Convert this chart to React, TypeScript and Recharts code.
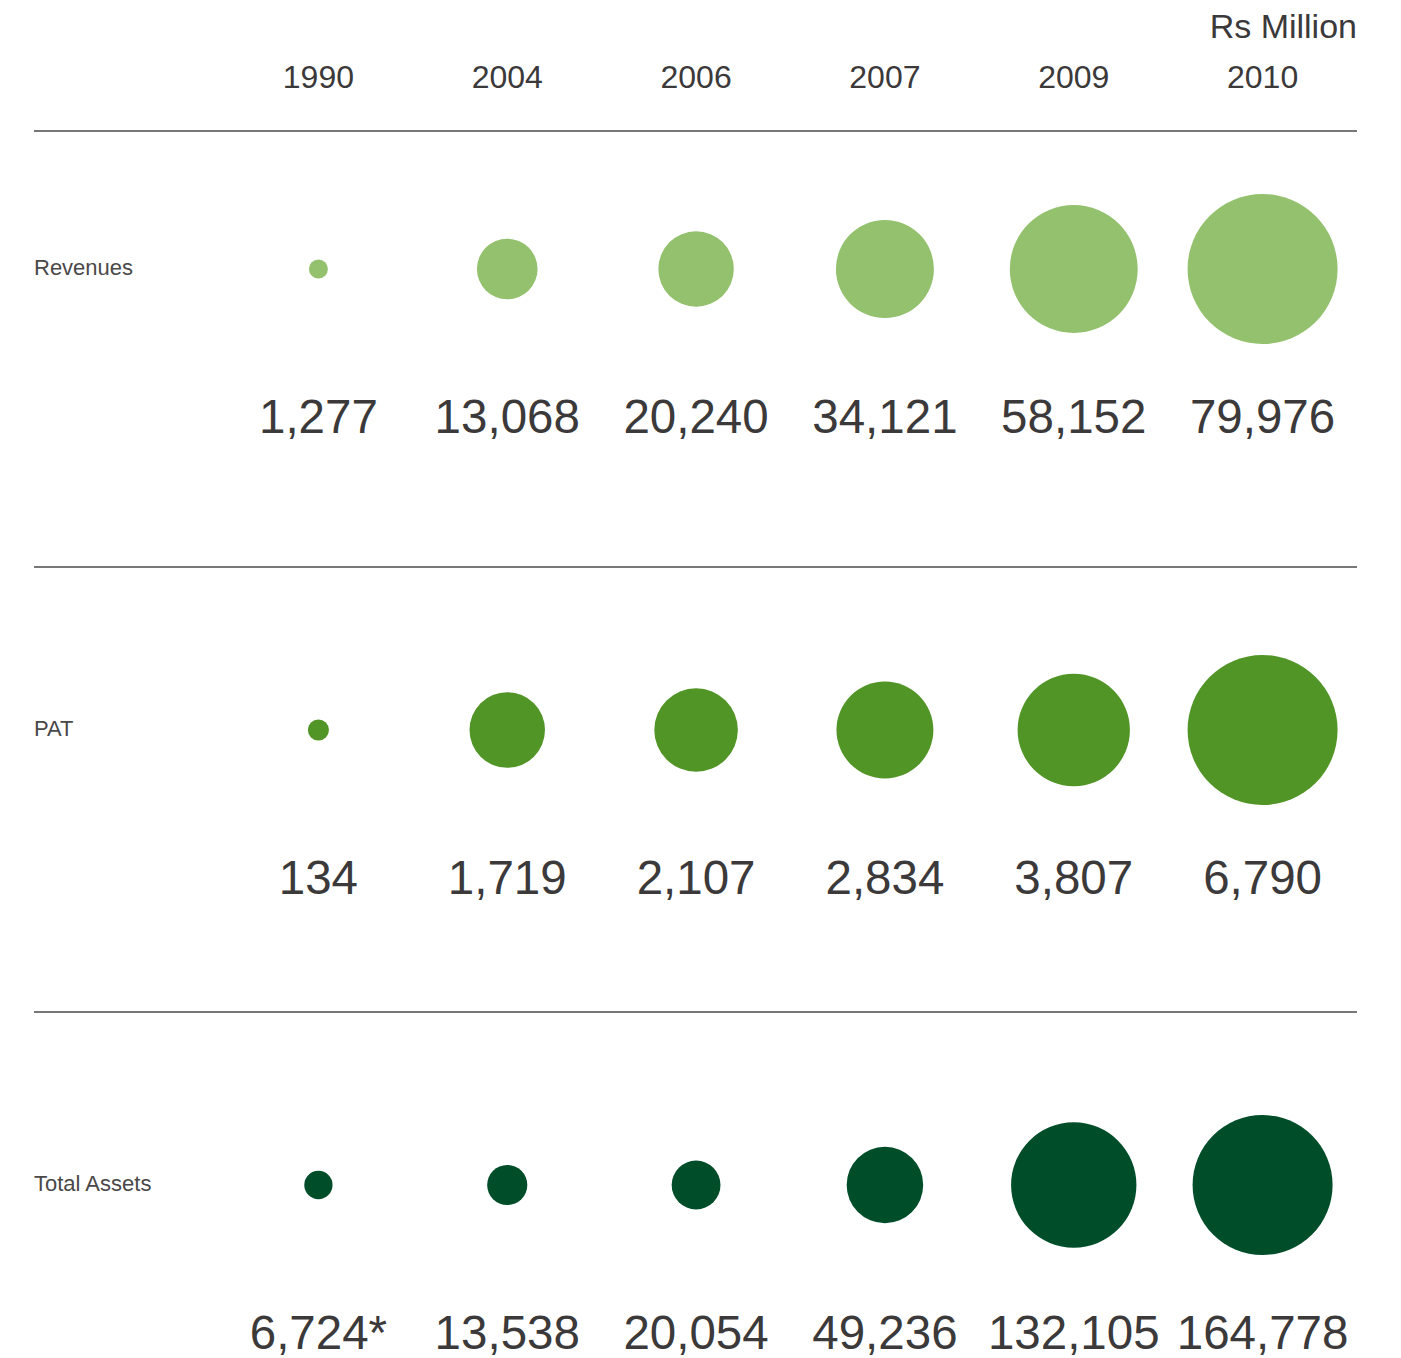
import { ScatterChart, Scatter, XAxis, YAxis, ZAxis, LabelList } from 'recharts'

const years = ['1990', '2004', '2006', '2007', '2009', '2010']

const revenues = [1277, 13068, 20240, 34121, 58152, 79976]
const pat = [134, 1719, 2107, 2834, 3807, 6790]
const totalAssets = [6724, 13538, 20054, 49236, 132105, 164778]
const totalAssetsNotes = ['*', '', '', '', '', '']

const UNIT = 'Rs Million'
const FONT = '"Helvetica Neue", Helvetica, "Liberation Sans", Arial, sans-serif'
const TEXT = '#3b3939'
const RULE = '#4a4a4a'

const LIGHT = '#93c16d'
const MID = '#519526'
const DARK = '#004d2a'

type Point = { year: string; row: string; value: number; label: string }

function buildRow(row: string, values: number[], notes?: string[]): Point[] {
  return years.map((year, i) => ({
    year,
    row,
    value: values[i],
    label: values[i].toLocaleString('en-US') + (notes ? notes[i] : ''),
  }))
}

function YearTick({ x, y, payload }: { x?: number; y?: number; payload?: { value: string } }) {
  if (!payload) return null
  return (
    <text x={x} y={y} textAnchor="middle" fill={TEXT} fontSize={32} fontFamily={FONT}>
      {payload.value}
    </text>
  )
}

function RowTick({ x, y, payload }: { x?: number; y?: number; payload?: { value: string } }) {
  if (!payload) return null
  return (
    <text x={x} y={(y ?? 0) + 6} textAnchor="start" fill="#4a4848" fontSize={22} fontFamily={FONT}>
      {payload.value}
    </text>
  )
}

function ValueLabel(props: any) {
  const vb = props.viewBox && props.viewBox.width != null ? props.viewBox : props
  const cx = vb.x + vb.width / 2
  const cy = vb.y + vb.height / 2
  return (
    <text x={cx} y={cy + 164} textAnchor="middle" fill={TEXT} fontSize={47.5} fontFamily={FONT}>
      {props.value}
    </text>
  )
}

interface RowProps {
  data: Point[]
  color: string
  maxRadius: number
  height: number
  axisHeight: number
  bottom: number
  showYears?: boolean
}

function BubbleRow({ data, color, maxRadius, height, axisHeight, bottom, showYears }: RowProps) {
  const max = Math.max(...data.map((d) => d.value))
  return (
    <ScatterChart width={1401} height={height} margin={{ top: 0, right: 44, bottom, left: 0 }}>
      <XAxis
        dataKey="year"
        type="category"
        orientation="top"
        allowDuplicatedCategory={false}
        height={axisHeight}
        padding={{ left: 190, right: 0 }}
        axisLine={{ stroke: RULE, strokeWidth: 1.5 }}
        tickLine={false}
        tickSize={0}
        tickMargin={43}
        tick={showYears ? <YearTick /> : false}
        interval={0}
      />
      <YAxis
        dataKey="row"
        type="category"
        allowDuplicatedCategory={false}
        width={34}
        axisLine={false}
        tickLine={false}
        tickSize={0}
        tickMargin={0}
        tick={<RowTick />}
      />
      <ZAxis dataKey="value" type="number" domain={[0, max]} range={[0, Math.PI * maxRadius * maxRadius]} />
      <Scatter data={data} fill={color} isAnimationActive={false}>
        <LabelList dataKey="label" content={<ValueLabel />} />
      </Scatter>
    </ScatterChart>
  )
}

export default function App() {
  return (
    <div
      style={{
        position: 'absolute',
        left: 0,
        top: 0,
        width: 1401,
        height: 1358,
        overflow: 'hidden',
        background: '#fff',
        fontFamily: FONT,
      }}
    >
      <div
        style={{
          position: 'absolute',
          right: 44,
          top: 9,
          fontSize: 34,
          lineHeight: 1,
          color: TEXT,
        }}
      >
        {UNIT}
      </div>
      <BubbleRow
        data={buildRow('Revenues', revenues)}
        color={LIGHT}
        maxRadius={75}
        height={557}
        axisHeight={131}
        bottom={150}
        showYears
      />
      <BubbleRow
        data={buildRow('PAT', pat)}
        color={MID}
        maxRadius={75}
        height={445}
        axisHeight={10}
        bottom={109}
      />
      <BubbleRow
        data={buildRow('Total Assets', totalAssets, totalAssetsNotes)}
        color={DARK}
        maxRadius={70}
        height={356}
        axisHeight={10}
        bottom={0}
      />
    </div>
  )
}
